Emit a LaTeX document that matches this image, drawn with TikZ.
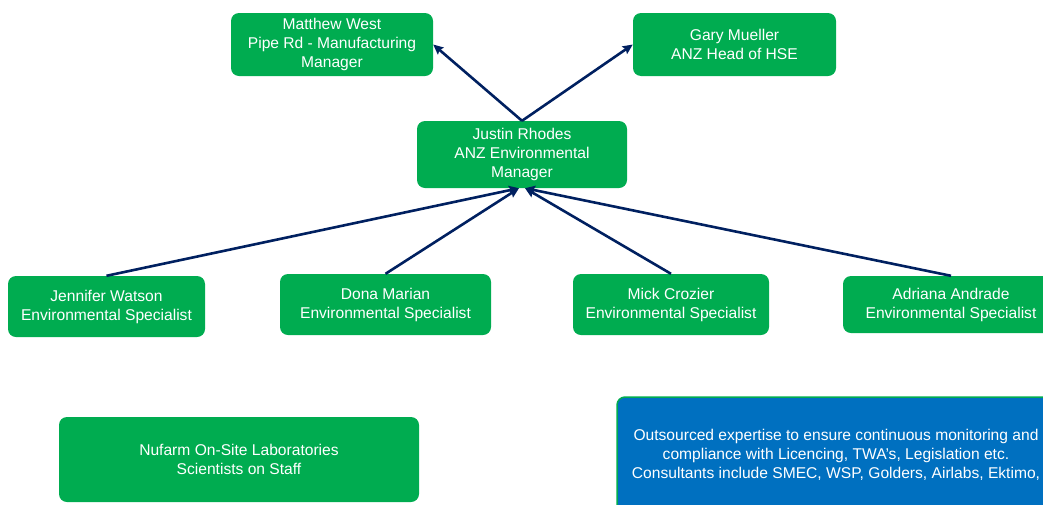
\documentclass[tikz,border=0pt]{standalone}
\usepackage{fontspec}
\setmainfont{Liberation Sans}
\usetikzlibrary{arrows.meta}

\definecolor{boxgreen}{RGB}{0,172,80}
\definecolor{boxblue}{RGB}{0,112,192}
\definecolor{linknavy}{RGB}{0,32,96}

\tikzset{
  person/.style = {fill = boxgreen, text = white, rounded corners = 8pt,
    align = center, inner sep = 0pt, font = \fontsize{15.6}{19}\selectfont},
  report/.style = {draw = linknavy, line width = 2.6pt,
    -{Stealth[length = 10pt, width = 9pt, inset = 1.5pt]}}
}

\begin{document}
\begin{tikzpicture}[x = 1pt, y = -1pt]
  \useasboundingbox (0, 0) rectangle (1043, 504);
  \clip (0, 0) rectangle (1043, 504);

  \node[person, minimum width = 202pt, minimum height = 63pt] (west) at (332, 44.5)
  {Matthew West\\Pipe Rd - Manufacturing\\Manager};
  \node[person, minimum width = 203pt, minimum height = 63pt] (mueller) at (734.5, 44.5)
  {Gary Mueller\\ANZ Head of HSE};
  \node[person, minimum width = 210pt, minimum height = 67pt] (rhodes) at (522, 154.5)
  {Justin Rhodes\\ANZ Environmental\\Manager};

  \node[person, minimum width = 197pt, minimum height = 61pt] (watson) at (106.5, 306.5)
  {Jennifer Watson\\Environmental Specialist};
  \node[person, minimum width = 211pt, minimum height = 61pt] (marian) at (385.5, 304.5)
  {Dona Marian\\Environmental Specialist};
  \node[person, minimum width = 196pt, minimum height = 61pt] (crozier) at (671, 304.5)
  {Mick Crozier\\Environmental Specialist};
  \node[person, minimum width = 216pt, minimum height = 57pt] (andrade) at (951, 304.5)
  {Adriana Andrade\\Environmental Specialist};

  \node[person, minimum width = 360pt, minimum height = 85pt] (labs) at (239, 459.5)
  {Nufarm On-Site Laboratories\\Scientists on Staff};
  \node[person, fill = boxblue, draw = boxgreen, line width = 1.5pt,
  minimum width = 438pt, minimum height = 116pt] (consult) at (836, 455)
  {Outsourced expertise to ensure continuous monitoring and\\
    compliance with Licencing, TWA's, Legislation etc.\\
    Consultants include SMEC, WSP, Golders, Airlabs, Ektimo,};

  \draw[report] (rhodes.north) -- (west.east);
  \draw[report] (rhodes.north) -- (mueller.west);

  \draw[report] (watson.north) -- ([xshift = -3pt]rhodes.south);
  \draw[report] (marian.north) -- ([xshift = -3pt]rhodes.south);
  \draw[report] (crozier.north) -- ([xshift = 3pt]rhodes.south);
  \draw[report] (andrade.north) -- ([xshift = 3pt]rhodes.south);
\end{tikzpicture}
\end{document}
